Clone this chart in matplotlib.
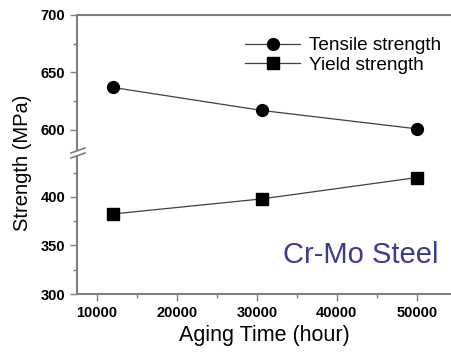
import matplotlib
matplotlib.use("Agg")
import matplotlib.pyplot as plt
from matplotlib.lines import Line2D
from matplotlib.ticker import MultipleLocator

plt.rcParams["font.family"] = ["Liberation Sans", "DejaVu Sans"]

aging_time = [12000, 30600, 50000]
tensile = [637, 617, 601]
yield_str = [382.5, 398, 420]
x_ticks = [10000, 20000, 30000, 40000, 50000]

W, H = 452, 356
fig = plt.figure(figsize=(W / 100, H / 100), dpi=100, facecolor="white")

left = 77 / W
ax_top = fig.add_axes([left, 1 - 150 / H, 1 - left, 135 / H])
ax_bot = fig.add_axes([left, 1 - 294 / H, 1 - left, 137 / H], sharex=ax_top)

spine_c = "#7f7f7f"
line_c = "#404040"

for ax in (ax_top, ax_bot):
    ax.plot(aging_time, tensile, color=line_c, lw=0.9, marker="o", ms=8.5,
            mfc="black", mec="black", label="Tensile strength")
    ax.plot(aging_time, yield_str, color=line_c, lw=0.9, marker="s", ms=8,
            mfc="black", mec="black", label="Yield strength")
    ax.spines["right"].set_visible(False)
    for s in ax.spines.values():
        s.set_color(spine_c)
        s.set_linewidth(1.5)
    ax.tick_params(which="both", direction="out", color=spine_c, labelcolor="black",
                   labelsize=10.5, width=1)
    ax.tick_params(which="major", length=5)
    ax.tick_params(which="minor", length=3)
    ax.yaxis.set_major_locator(MultipleLocator(50))
    ax.yaxis.set_minor_locator(MultipleLocator(25))

ax_top.set_ylim(582.6, 700)
ax_bot.set_ylim(300, 441.2)
ax_top.spines["bottom"].set_visible(False)
ax_bot.spines["top"].set_visible(False)
ax_top.tick_params(axis="x", which="both", bottom=False, labelbottom=False)

ax_bot.set_xlim(7500, 54400)
ax_bot.set_xticks(x_ticks)
ax_bot.xaxis.set_minor_locator(MultipleLocator(5000))
ax_bot.set_xticklabels([str(t) for t in x_ticks], fontweight="bold")

for lab in ax_top.get_yticklabels() + ax_bot.get_yticklabels():
    lab.set_fontweight("bold")

ax_bot.set_xlabel("Aging Time (hour)", fontsize=15.5, labelpad=4)
fig.text(23 / W, 1 - 163 / H, "Strength (MPa)", rotation=90, fontsize=14.5,
         ha="center", va="center")

# break marks on the left axis
for y0 in (153, 158):
    fig.add_artist(Line2D([71 / W, 85 / W], [1 - y0 / H, 1 - (y0 - 5) / H],
                          color=spine_c, lw=1.2, transform=fig.transFigure))

ax_top.legend(loc="upper left", bbox_to_anchor=(245 / W, 1 - 37 / H),
              bbox_transform=fig.transFigure, frameon=False, fontsize=13.7,
              handlelength=2.9, handletextpad=0.45, labelspacing=0.1,
              borderpad=0, borderaxespad=0)

fig.text(283 / W, 1 - 263 / H, "Cr-Mo Steel", fontsize=21, color="#3b3b8f",
         ha="left", va="baseline")

fig.savefig("out.png", dpi=100, facecolor="white")
